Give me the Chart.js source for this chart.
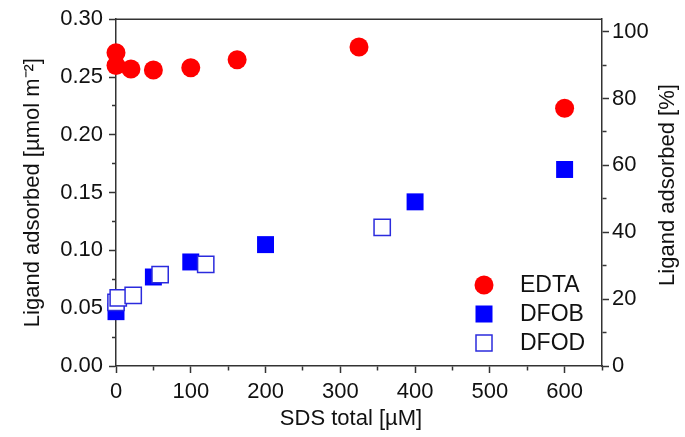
<!DOCTYPE html>
<html>
<head>
<meta charset="utf-8">
<script src="https://cdn.jsdelivr.net/npm/chart.js@4"></script>
<style>
  body { margin: 0; background: #fff; }
  #wrap { width: 685px; height: 437px; }
</style>
</head>
<body>
<div id="wrap"><canvas id="grafico"></canvas></div>
<script>
// dados
const edtaX = [0, 0, 20, 50, 100, 162, 325, 600];
const edtaY = [0.271, 0.260, 0.257, 0.256, 0.258, 0.265, 0.276, 0.223];
const dfobX = [0, 50, 100, 200, 400, 600];
const dfobY = [0.047, 0.077, 0.090, 0.105, 0.142, 0.170];
const dfodX = [0, 3, 23, 59, 120, 356];
const dfodY = [0.055, 0.059, 0.061, 0.079, 0.088, 0.120];
const nomes = ["EDTA", "DFOB", "DFOD"];

const fonte = "'Liberation Sans', Arial, sans-serif";
const corTexto = "#111";
const corEixo = "#333";

function pontos(xs, ys) {
  return xs.map((x, i) => ({ x: x, y: ys[i] }));
}

// ticks menores: mais curtos (so um pedaco do traco e desenhado)
function tracoMenor(ehMaior, ladoEsquerdo) {
  return (c) => {
    if (!c.tick || ehMaior(c.tick.value)) return [];
    return ladoEsquerdo ? [0, 3, 4, 20] : [4, 20];
  };
}
const maiorX = (v) => v % 100 === 0;
const maiorY = (v) => Math.round(v * 1000) % 50 === 0;
const maiorY2 = (v) => v % 20 === 0;

// moldura, titulos e legenda
const extras = {
  id: "extras",
  afterDraw(chart) {
    const ctx = chart.ctx;
    const a = chart.chartArea;
    ctx.save();
    ctx.strokeStyle = corEixo;
    ctx.lineWidth = 1.5;
    ctx.beginPath();
    ctx.moveTo(a.left, a.top);
    ctx.lineTo(a.right, a.top);
    ctx.stroke();

    ctx.fillStyle = corTexto;
    ctx.font = "22px " + fonte;
    ctx.textAlign = "center";
    ctx.textBaseline = "middle";
    ctx.fillText("SDS total [µM]", 351, 419);
    ctx.save();
    ctx.translate(668, 185);
    ctx.rotate(-Math.PI / 2);
    ctx.fillText("Ligand adsorbed [%]", 0, 0);
    ctx.restore();

    const lx = 484, ly = [285, 314, 343], tx = 520;
    ctx.beginPath();
    ctx.fillStyle = "#ff0000";
    ctx.arc(lx, ly[0], 9.5, 0, Math.PI * 2);
    ctx.fill();
    ctx.fillStyle = "#0000ff";
    ctx.fillRect(lx - 8.5, ly[1] - 8.5, 17, 17);
    ctx.fillStyle = "#fff";
    ctx.fillRect(lx - 8, ly[2] - 8, 16, 16);
    ctx.strokeStyle = "#2b2bdd";
    ctx.lineWidth = 1.5;
    ctx.strokeRect(lx - 8, ly[2] - 8, 16, 16);

    ctx.fillStyle = corTexto;
    ctx.font = "23px " + fonte;
    ctx.textAlign = "left";
    nomes.forEach((n, i) => ctx.fillText(n, tx, ly[i] + 1));
    ctx.restore();
  },
};

const ctx = document.querySelector("#grafico");

new Chart(ctx, {
  type: "scatter",
  data: {
    datasets: [
      {
        label: nomes[0],
        data: pontos(edtaX, edtaY),
        pointStyle: "circle",
        pointRadius: 9.5,
        backgroundColor: "#ff0000",
        borderColor: "#ff0000",
        borderWidth: 0,
        clip: false,
        order: 2,
      },
      {
        label: nomes[1],
        data: pontos(dfobX, dfobY),
        pointStyle: "rect",
        pointRadius: 12,
        backgroundColor: "#0000ff",
        borderColor: "#0000ff",
        borderWidth: 0,
        clip: false,
        order: 1,
      },
      {
        label: nomes[2],
        data: pontos(dfodX, dfodY),
        pointStyle: "rect",
        pointRadius: 11.5,
        backgroundColor: "#ffffff",
        borderColor: "#2b2bdd",
        borderWidth: 1.5,
        clip: false,
        order: 0,
      },
    ],
  },
  options: {
    responsive: true,
    maintainAspectRatio: false,
    animation: false,
    layout: { padding: { top: 16, left: 0, right: 0, bottom: 0 } },
    plugins: { legend: { display: false }, tooltip: { enabled: false } },
    scales: {
      x: {
        type: "linear",
        min: 0,
        max: 650,
        afterFit: (s) => { s.height = 71; },
        ticks: {
          stepSize: 50,
          autoSkip: false,
          maxRotation: 0,
          padding: 6,
          color: corTexto,
          font: { family: fonte, size: 22 },
          callback: (v) => (maiorX(v) ? v : ""),
        },
        grid: {
          display: true, drawOnChartArea: false, tickLength: 7,
          tickColor: corEixo, tickWidth: 1.5, tickBorderDash: tracoMenor(maiorX, false),
        },
        border: { display: true, color: corEixo, width: 1.5 },
      },
      y: {
        type: "linear",
        position: "left",
        min: 0,
        max: 0.3,
        afterFit: (s) => { s.width = 116; },
        ticks: {
          stepSize: 0.025,
          autoSkip: false,
          padding: 6,
          color: corTexto,
          font: { family: fonte, size: 22 },
          callback: (v) => (maiorY(v) ? v.toFixed(2) : ""),
        },
        grid: {
          display: true, drawOnChartArea: false, tickLength: 7,
          tickColor: corEixo, tickWidth: 1.5, tickBorderDash: tracoMenor(maiorY, true),
        },
        border: { display: true, color: corEixo, width: 1.5 },
        title: {
          display: true,
          text: "Ligand adsorbed [µmol m⁻²]",
          color: corTexto,
          font: { family: fonte, size: 22 },
          padding: { top: 20, bottom: 0 },
        },
      },
      y2: {
        type: "linear",
        position: "right",
        min: 0,
        max: 103.7,
        afterFit: (s) => { s.width = 83; },
        ticks: {
          stepSize: 10,
          autoSkip: false,
          includeBounds: false,
          padding: 3,
          color: corTexto,
          font: { family: fonte, size: 22 },
          callback: (v) => (maiorY2(v) ? v : ""),
        },
        grid: {
          display: true, drawOnChartArea: false, tickLength: 7,
          tickColor: corEixo, tickWidth: 1.5, tickBorderDash: tracoMenor(maiorY2, false),
        },
        border: { display: true, color: corEixo, width: 1.5 },
      },
    },
  },
  plugins: [extras],
});
</script>
</body>
</html>
